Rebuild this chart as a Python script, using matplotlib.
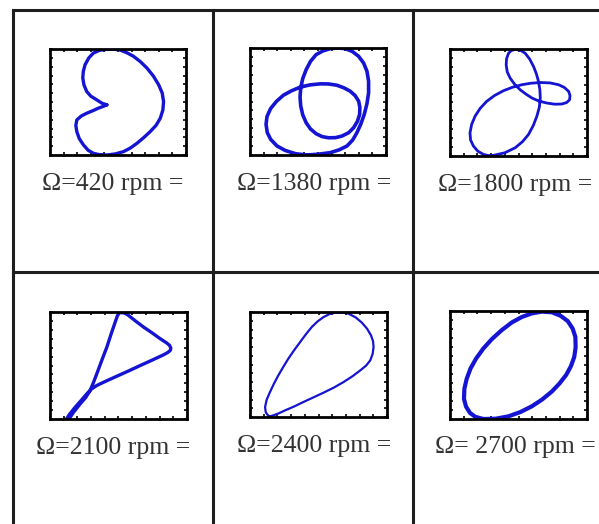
import matplotlib.pyplot as plt

plt.rcParams["font.family"] = ["Liberation Serif", "DejaVu Serif"]

W, H = 599, 524

speeds = ["Ω=420 rpm =", "Ω=1380 rpm =", "Ω=1800 rpm =",
          "Ω=2100 rpm =", "Ω=2400 rpm =", "Ω= 2700 rpm ="]

# orbit traces, normalised to each panel's range
x420 = [0.418, 0.380, 0.344, 0.300, 0.270, 0.250, 0.241, 0.245, 0.258, 0.285, 0.319, 0.365,
        0.418, 0.470, 0.516, 0.565, 0.614, 0.665, 0.713, 0.760, 0.799, 0.825, 0.835, 0.830,
        0.811, 0.780, 0.737, 0.690, 0.639, 0.590, 0.541, 0.480, 0.418, 0.360, 0.319, 0.280,
        0.246, 0.215, 0.197, 0.190, 0.197, 0.230, 0.270, 0.315, 0.356, 0.390, 0.418]
y420 = [0.473, 0.490, 0.520, 0.555, 0.599, 0.660, 0.726, 0.790, 0.852, 0.915, 0.962, 0.988,
        0.997, 0.998, 0.990, 0.965, 0.931, 0.880, 0.820, 0.745, 0.662, 0.585, 0.505, 0.425,
        0.347, 0.280, 0.221, 0.165, 0.110, 0.065, 0.032, 0.010, 0.000, 0.004, 0.016, 0.045,
        0.095, 0.155, 0.221, 0.280, 0.331, 0.368, 0.394, 0.418, 0.442, 0.458, 0.473]

x1380 = [0.418, 0.505, 0.590, 0.655, 0.713, 0.755, 0.786, 0.815, 0.840, 0.860, 0.872, 0.872,
         0.860, 0.835, 0.799, 0.752, 0.700, 0.645, 0.590, 0.535, 0.486, 0.445, 0.413, 0.388,
         0.373, 0.368, 0.373, 0.388, 0.413, 0.445, 0.486, 0.530, 0.577, 0.628, 0.676, 0.725,
         0.762, 0.790, 0.806, 0.808, 0.799, 0.773, 0.737, 0.690, 0.639, 0.578, 0.516, 0.440,
         0.369, 0.305, 0.246, 0.195, 0.152, 0.125, 0.118, 0.127, 0.152, 0.198, 0.258, 0.335,
         0.418]
y1380 = [0.000, 0.008, 0.022, 0.048, 0.084, 0.140, 0.208, 0.290, 0.379, 0.480, 0.581, 0.690,
         0.783, 0.860, 0.922, 0.968, 0.994, 1.000, 0.994, 0.972, 0.938, 0.875, 0.798, 0.715,
         0.627, 0.540, 0.457, 0.375, 0.301, 0.243, 0.199, 0.172, 0.161, 0.162, 0.177, 0.208,
         0.255, 0.315, 0.379, 0.445, 0.503, 0.555, 0.596, 0.628, 0.652, 0.664, 0.665, 0.655,
         0.634, 0.600, 0.559, 0.502, 0.435, 0.360, 0.286, 0.210, 0.146, 0.085, 0.043, 0.012,
         0.000]

x1800 = [0.317, 0.400, 0.476, 0.530, 0.573, 0.608, 0.634, 0.652, 0.659, 0.656, 0.646, 0.630,
         0.610, 0.582, 0.549, 0.512, 0.476, 0.447, 0.427, 0.413, 0.410, 0.418, 0.439, 0.472,
         0.512, 0.555, 0.598, 0.650, 0.707, 0.765, 0.817, 0.852, 0.873, 0.876, 0.866, 0.835,
         0.793, 0.730, 0.659, 0.590, 0.524, 0.455, 0.390, 0.325, 0.268, 0.220, 0.183, 0.158,
         0.146, 0.150, 0.171, 0.203, 0.244, 0.280, 0.317]
y1800 = [0.006, 0.030, 0.077, 0.135, 0.201, 0.285, 0.372, 0.455, 0.542, 0.620, 0.697, 0.770,
         0.836, 0.905, 0.960, 0.990, 0.997, 0.985, 0.960, 0.910, 0.851, 0.785, 0.728, 0.670,
         0.619, 0.578, 0.542, 0.513, 0.495, 0.484, 0.486, 0.500, 0.526, 0.565, 0.604, 0.640,
         0.666, 0.683, 0.687, 0.680, 0.666, 0.642, 0.610, 0.565, 0.511, 0.445, 0.372, 0.295,
         0.217, 0.150, 0.093, 0.045, 0.015, 0.004, 0.006]

x2100 = [0.122, 0.170, 0.220, 0.260, 0.293, 0.320, 0.346, 0.380, 0.415, 0.445, 0.476, 0.492,
         0.507, 0.540, 0.566, 0.625, 0.683, 0.745, 0.805, 0.850, 0.873, 0.882, 0.878, 0.860,
         0.829, 0.745, 0.659, 0.575, 0.488, 0.410, 0.341, 0.300, 0.268, 0.225, 0.183, 0.140,
         0.102]
y2100 = [-0.031, 0.060, 0.141, 0.200, 0.266, 0.350, 0.438, 0.555, 0.672, 0.790, 0.906, 0.965,
         0.994, 0.992, 0.975, 0.915, 0.859, 0.805, 0.750, 0.712, 0.688, 0.662, 0.641, 0.622,
         0.600, 0.550, 0.500, 0.450, 0.400, 0.355, 0.313, 0.278, 0.234, 0.170, 0.109, 0.040,
         -0.038]

x2400 = [0.134, 0.115, 0.110, 0.122, 0.146, 0.175, 0.207, 0.243, 0.280, 0.322, 0.366, 0.408,
         0.451, 0.493, 0.537, 0.580, 0.622, 0.672, 0.720, 0.772, 0.817, 0.855, 0.883, 0.898,
         0.902, 0.895, 0.878, 0.848, 0.805, 0.748, 0.683, 0.612, 0.537, 0.465, 0.390, 0.322,
         0.256, 0.210, 0.171, 0.150, 0.134]
y2400 = [0.010, 0.045, 0.095, 0.165, 0.238, 0.318, 0.397, 0.477, 0.556, 0.636, 0.714, 0.788,
         0.857, 0.910, 0.952, 0.980, 0.994, 0.996, 0.984, 0.948, 0.898, 0.840, 0.778, 0.722,
         0.667, 0.600, 0.540, 0.490, 0.444, 0.388, 0.333, 0.280, 0.232, 0.188, 0.143, 0.100,
         0.063, 0.035, 0.016, 0.008, 0.010]

x2700 = [0.244, 0.185, 0.146, 0.117, 0.102, 0.105, 0.122, 0.150, 0.190, 0.243, 0.305, 0.375,
         0.451, 0.525, 0.598, 0.670, 0.744, 0.808, 0.859, 0.895, 0.915, 0.917, 0.907, 0.883,
         0.849, 0.800, 0.744, 0.672, 0.598, 0.515, 0.427, 0.335, 0.244]
y2700 = [0.000, 0.020, 0.056, 0.115, 0.186, 0.280, 0.373, 0.468, 0.559, 0.652, 0.739, 0.820,
         0.894, 0.945, 0.978, 0.994, 0.988, 0.955, 0.907, 0.838, 0.761, 0.665, 0.575, 0.490,
         0.410, 0.330, 0.255, 0.180, 0.118, 0.065, 0.025, 0.003, 0.000]

orbits = [(x420, y420), (x1380, y1380), (x1800, y1800),
          (x2100, y2100), (x2400, y2400), (x2700, y2700)]
widths = [2.4, 2.6, 2.0, 2.4, 1.6, 3.0]

# panel boxes in pixels: left, top, right, bottom
boxes = [(50, 49, 186, 155), (250, 48, 386, 155), (450, 49, 587, 156),
         (50, 312, 187, 419), (250, 312, 387, 417), (450, 311, 587, 419)]
label_pos = [(113, 190), (314, 190), (515, 191), (113, 454), (314, 452), (515, 453)]

fig = plt.figure(figsize=(W / 100, H / 100), dpi=100)
fig.patch.set_facecolor("white")

# table frame
frame = fig.add_axes([0, 0, 1, 1])
frame.set_xlim(0, W)
frame.set_ylim(H, 0)
frame.axis("off")
lc = "#1e1e1e"
frame.plot([13, W], [10, 10], color=lc, lw=2.2)
frame.plot([13, W], [272, 272], color=lc, lw=2.2)
for xv in [13, 213, 413]:
    frame.plot([xv, xv], [10, H], color=lc, lw=2.2)

for (xs, ys), lw, (l, t, r, b), txt, (tx, ty) in zip(orbits, widths, boxes, speeds, label_pos):
    ax = fig.add_axes([l / W, 1 - b / H, (r - l) / W, (b - t) / H])
    ax.plot(xs, ys, color="#1414d2", lw=lw, solid_joinstyle="round",
            solid_capstyle="round")
    ax.set_xlim(0, 1)
    ax.set_ylim(0, 1)
    ax.set_xticks([i / 10 for i in range(11)])
    ax.set_yticks([i / 12 for i in range(13)])
    ax.tick_params(direction="in", length=2, width=1.2, top=True, right=True,
                   labelbottom=False, labelleft=False)
    for s in ax.spines.values():
        s.set_linewidth(2)
    frame.text(tx, ty, txt, fontsize=18.5, color="#333333", ha="center", va="baseline")

fig.savefig("out.png", dpi=100)
